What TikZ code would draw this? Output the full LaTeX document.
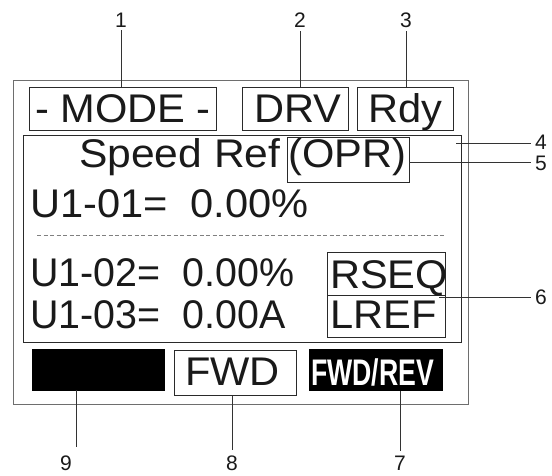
\documentclass[tikz,border=0pt]{standalone}
\usepackage{fontspec}
\usepackage{graphicx}
\setmainfont{Liberation Sans}
\definecolor{boxc}{HTML}{2A2A2A}
\definecolor{outerc}{HTML}{6E6E6E}
\definecolor{leadc}{HTML}{333333}
\definecolor{txt}{HTML}{1A1A1A}
\newcommand{\widetxt}[2][1.04]{\scalebox{#1}[1]{#2}}
\begin{document}
\begin{tikzpicture}[x=1pt,y=-1pt,
  box/.style={draw=boxc,line width=1pt,inner sep=0pt,anchor=north west},
  big/.style={font=\fontsize{40}{40}\selectfont,inner sep=0pt,anchor=base west,text=txt},
  num/.style={font=\fontsize{21}{21}\selectfont,inner sep=0pt,text=txt},
  lead/.style={draw=leadc,line width=1pt}]
\useasboundingbox (0,0) rectangle (552,475);
\fill[white] (0,0) rectangle (552,475);

% frames
\node[box,draw=outerc,minimum width=455pt,minimum height=324pt] (outer) at (13,80) {};
\node[box,minimum width=438pt,minimum height=207pt] (inner) at (23,135) {};
\node[box,minimum width=187pt,minimum height=43pt] (modebox) at (29,87) {};
\node[box,minimum width=106pt,minimum height=43pt] (drvbox) at (242,87) {};
\node[box,minimum width=96pt,minimum height=43pt] (rdybox) at (357,87) {};
\node[box,minimum width=122pt,minimum height=45pt] (oprbox) at (287,137) {};
\node[box,minimum width=118pt,minimum height=43pt] (rseqbox) at (327,252) {};
\node[box,minimum width=118pt,minimum height=42pt] (lrefbox) at (327,295) {};
\node[box,fill=black,draw=black,minimum width=132pt,minimum height=41pt] (blk) at (32,349) {};
\node[box,minimum width=122pt,minimum height=45pt] (fwdbox) at (174,350) {};
\node[box,fill=black,draw=black,minimum width=133pt,minimum height=41pt] (frbox) at (309,349) {};

% texts
\node[big] (tmode) at (35,122) {\widetxt{- MODE -}};
\node[big] (tdrv) at (254,122) {\widetxt{DRV}};
\node[big] (trdy) at (368,122) {\widetxt{Rdy}};
\node[big] (tspeed) at (79,167) {\widetxt[1.065]{Speed Ref}};
\node[big] (topr) at (288,167) {\widetxt{(OPR)}};
\node[big] (tu1) at (30,217) {\widetxt{U1-01=\ \ 0.00\%}};
\node[big] (tu2) at (30,286) {\widetxt[0.985]{U1-02=\ \ 0.00\%}};
\node[big] (tu3) at (30,328) {\widetxt[0.985]{U1-03=\ \ 0.00A}};
\node[big] (trseq) at (330,288) {\widetxt{RSEQ}};
\node[big] (tlref) at (330,328) {\widetxt{LREF}};
\node[big] (tfwd) at (185,385) {\widetxt{FWD}};
\node[inner sep=0pt,anchor=base west,text=white] (tfr) at (311,385)
  {\fontsize{37}{37}\selectfont\bfseries\scalebox{0.72}[1]{FWD/REV}};

% dashed separator
\coordinate (d1) at (37,235);
\coordinate (d2) at (444,235);
\draw[draw=gray,line width=0.7pt,dash pattern=on 4pt off 2.5pt] (d1) -- (d2);

% callout numbers
\node[num] (n1) at (121,20) {1};
\node[num] (n2) at (300,20) {2};
\node[num] (n3) at (406,20) {3};
\node[num] (n4) at (541,142) {4};
\node[num] (n5) at (541,163) {5};
\node[num] (n6) at (541,297) {6};
\node[num] (n7) at (400,463) {7};
\node[num] (n8) at (232,463) {8};
\node[num] (n9) at (66,463) {9};

% leaders
\draw[lead,shorten >=3pt] (modebox.north -| n1) -- (n1.south);
\draw[lead,shorten >=3pt] (drvbox.north -| n2) -- (n2.south);
\draw[lead,shorten >=3pt] (rdybox.north -| n3) -- (n3.south);
\coordinate (c4) at (456,143);
\draw[lead,shorten >=4pt] (c4) -- (c4 -| n4.west);
\coordinate (c5) at (409,162);
\draw[lead,shorten >=4pt] (c5) -- (c5 -| n5.west);
\coordinate (c6) at (439,297);
\draw[lead,shorten >=4pt] (c6) -- (n6.west);
\draw[lead,shorten >=5pt] (frbox.south -| n7) -- (n7.north);
\draw[lead,shorten >=5pt] (fwdbox.south -| n8) -- (n8.north);
\coordinate (c9a) at (76,390);
\coordinate (c9b) at (76,447);
\draw[lead] (c9a) -- (c9b);
\end{tikzpicture}
\end{document}
